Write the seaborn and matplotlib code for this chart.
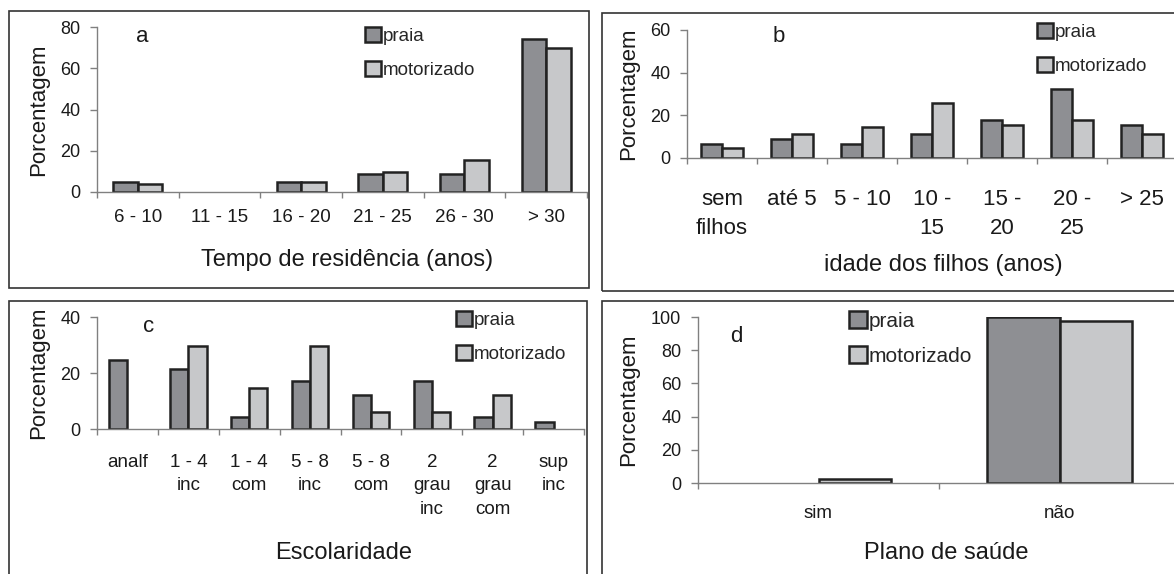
import numpy as np
import pandas as pd
import seaborn as sns
import matplotlib
matplotlib.use("Agg")
import matplotlib.pyplot as plt
from matplotlib.patches import Patch, Rectangle

# a - tempo de residencia
tempo_cat = ["6 - 10", "11 - 15", "16 - 20", "21 - 25", "26 - 30", "> 30"]
tempo_praia = [5.0, 0, 5.0, 8.5, 8.5, 74.3]
tempo_motor = [4.0, 0, 5.0, 9.6, 15.4, 69.8]

# b - idade dos filhos
idade_cat = ["sem\nfilhos", "até 5", "5 - 10", "10 -\n15", "15 -\n20", "20 -\n25", "> 25"]
idade_praia = [6.7, 8.9, 6.7, 11.2, 17.9, 32.3, 15.6]
idade_motor = [4.5, 11.2, 14.6, 25.6, 15.6, 17.9, 11.2]

# c - escolaridade
escol_cat = ["analf", "1 - 4\ninc", "1 - 4\ncom", "5 - 8\ninc", "5 - 8\ncom",
             "2\ngrau\ninc", "2\ngrau\ncom", "sup\ninc"]
escol_praia = [24.6, 21.3, 4.4, 17.2, 12.1, 17.2, 4.4, 2.6]
escol_motor = [0, 29.7, 14.6, 29.7, 6.1, 6.1, 12.1, 0]

# d - plano de saude
plano_cat = ["sim", "não"]
plano_praia = [0, 100]
plano_motor = [2.6, 97.4]

grupos = ["praia", "motorizado"]
cores = {"praia": "#8e8f93", "motorizado": "#c7c8ca"}

W, H = 1174, 574
sns.set_theme(style="white")
plt.rcParams["font.family"] = ["Liberation Sans", "DejaVu Sans"]

fig = plt.figure(figsize=(W / 100, H / 100), dpi=100)


def fx(x):
    return x / W


def fy(y):
    return 1 - y / H


def painel(cats, praia, motor, box, eixo, ymax, letra, letra_xy, xlabel, xlabel_xy,
           ylabel_x, leg_xy, tick_fs=13.5, tick_pad=12, spacing=1.2, leg_fs=13.5,
           leg_spacing=0.85):
    # moldura do painel
    bx0, by0, bx1, by1 = box
    fig.add_artist(Rectangle((fx(bx0), fy(by1)), (bx1 - bx0) / W, (by1 - by0) / H,
                             transform=fig.transFigure, fill=False,
                             edgecolor="#333333", linewidth=1.2))

    x0, y0, x1, y1 = eixo
    ax = fig.add_axes([fx(x0), fy(y1), (x1 - x0) / W, (y1 - y0) / H])
    n = len(cats)
    df = pd.DataFrame({"categoria": cats * 2,
                       "grupo": ["praia"] * n + ["motorizado"] * n,
                       "valor": praia + motor})
    sns.barplot(data=df, x="categoria", y="valor", hue="grupo", order=cats,
                hue_order=grupos, palette=cores, width=0.6, saturation=1,
                edgecolor="#222222", linewidth=1.8, errorbar=None,
                legend=False, ax=ax)
    # barras com valor zero nao aparecem no original
    for p in ax.patches:
        if p.get_height() == 0:
            p.set_visible(False)

    ax.set_xlim(-0.5, n - 0.5)
    ax.set_ylim(0, ymax)
    ax.set_yticks(np.arange(0, ymax + 1, 20))
    ax.set_xticks(range(n))
    ax.set_xticklabels(cats, fontsize=tick_fs, linespacing=spacing)
    ax.set_xticks(np.arange(-0.5, n, 1), minor=True)
    ax.tick_params(axis="x", which="major", length=0, pad=tick_pad, colors="#1a1a1a")
    ax.tick_params(axis="x", which="minor", bottom=True, length=4.5, width=1,
                   color="#808080", direction="out")
    ax.tick_params(axis="y", left=True, length=5, width=1, color="#808080",
                   pad=7, labelsize=13, labelcolor="#1a1a1a", direction="out")
    for s in ["top", "right"]:
        ax.spines[s].set_visible(False)
    for s in ["left", "bottom"]:
        ax.spines[s].set_color("#808080")
        ax.spines[s].set_linewidth(1)

    ax.set_ylabel("Porcentagem", fontsize=16, color="#1a1a1a")
    ax.yaxis.set_label_coords(fx(ylabel_x), fy((y0 + y1) / 2), transform=fig.transFigure)
    ax.yaxis.label.set_va("center")
    ax.set_xlabel(xlabel, fontsize=17, color="#1a1a1a")
    ax.xaxis.set_label_coords(fx(xlabel_xy[0]), fy(xlabel_xy[1]), transform=fig.transFigure)
    ax.xaxis.label.set_va("center")

    fig.text(fx(letra_xy[0]), fy(letra_xy[1]), letra, fontsize=16,
             ha="center", va="center", color="#1a1a1a")

    handles = [Patch(facecolor=cores[g], edgecolor="#222222", linewidth=1.8, label=g)
               for g in grupos]
    ax.legend(handles=handles, loc="upper left",
              bbox_to_anchor=(fx(leg_xy[0]), fy(leg_xy[1])),
              bbox_transform=fig.transFigure, frameon=False, fontsize=leg_fs,
              handlelength=0.85, handleheight=0.85, handletextpad=0.1,
              labelspacing=leg_spacing, borderpad=0, borderaxespad=0)
    return ax


painel(tempo_cat, tempo_praia, tempo_motor, box=(9, 11, 589, 288),
       eixo=(97, 27, 587, 192), ymax=80, letra="a", letra_xy=(142, 37),
       xlabel="Tempo de residência (anos)", xlabel_xy=(347, 260), ylabel_x=39,
       leg_xy=(365, 27), tick_pad=12)

painel(idade_cat, idade_praia, idade_motor, box=(602, 13, 1190, 291),
       eixo=(687, 30, 1177, 158), ymax=60, letra="b", letra_xy=(779, 37),
       xlabel="idade dos filhos (anos)", xlabel_xy=(943, 265), ylabel_x=629,
       leg_xy=(1037, 23), tick_fs=16, tick_pad=22, spacing=1.55)

painel(escol_cat, escol_praia, escol_motor, box=(9, 301, 587, 590),
       eixo=(97, 317, 584, 429), ymax=40, letra="c", letra_xy=(149, 327),
       xlabel="Escolaridade", xlabel_xy=(344, 553), ylabel_x=39,
       leg_xy=(456, 311), tick_pad=18, spacing=1.5)

painel(plano_cat, plano_praia, plano_motor, box=(602, 301, 1190, 590),
       eixo=(698, 317, 1180, 483), ymax=100, letra="d", letra_xy=(736, 337),
       xlabel="Plano de saúde", xlabel_xy=(946, 553), ylabel_x=629,
       leg_xy=(849, 311), tick_pad=16, leg_fs=15, leg_spacing=0.75)

fig.savefig("out.png", dpi=100)
